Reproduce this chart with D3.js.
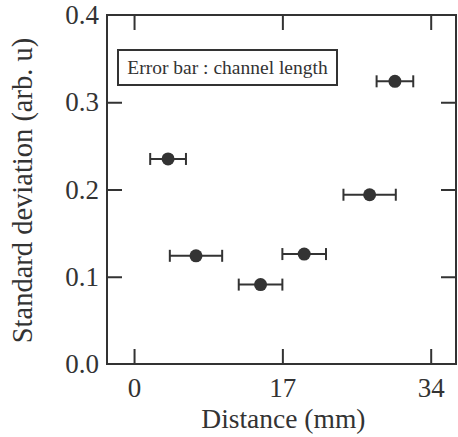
<!DOCTYPE html>
<html>
<head>
<meta charset="utf-8">
<script src="https://cdn.jsdelivr.net/npm/d3@7"></script>
<style>
  body { margin: 0; background: #fff; }
  svg text { font-family: "Liberation Serif", "Times New Roman", serif; fill: #333; }
</style>
</head>
<body>
<div id="chart"></div>
<script>
// data
const distance = [3.9, 7.1, 14.5, 19.5, 27.0, 29.9];
const stdDev   = [0.235, 0.124, 0.091, 0.126, 0.194, 0.324];
const errHalf  = [2.05, 3.0, 2.5, 2.5, 3.0, 2.1];   // channel length / 2
const xTicks = [0, 17, 34];
const yTicks = [0.0, 0.1, 0.2, 0.3, 0.4];

const width = 458;
const height = 437;
const MARGIN = { top: 15, right: 2, bottom: 73, left: 107 };
const ink = '#333';

const svg = d3.select('#chart').append('svg')
  .attr('width', width)
  .attr('height', height);

const x = d3.scaleLinear().domain([-3.1, 36.9]).range([MARGIN.left, width - MARGIN.right]);
const y = d3.scaleLinear().domain([0, 0.4]).range([height - MARGIN.bottom, MARGIN.top]);

const TICK = 15;

// axes (ticks inward on all four sides)
const gx = svg.append('g')
  .attr('transform', `translate(0,${y(0)})`)
  .call(d3.axisBottom(x).tickValues(xTicks).tickSize(-TICK).tickPadding(14).tickFormat(d3.format('d')));
const gxTop = svg.append('g')
  .attr('transform', `translate(0,${y(0.4)})`)
  .call(d3.axisTop(x).tickValues(xTicks).tickSize(-TICK).tickFormat(''));
const gy = svg.append('g')
  .attr('transform', `translate(${x.range()[0]},0)`)
  .call(d3.axisLeft(y).tickValues(yTicks).tickSize(-TICK).tickPadding(8).tickFormat(d3.format('.1f')));
const gyRight = svg.append('g')
  .attr('transform', `translate(${x.range()[1]},0)`)
  .call(d3.axisRight(y).tickValues(yTicks).tickSize(-TICK).tickFormat(''));

[gx, gxTop, gy, gyRight].forEach(g => {
  g.select('.domain').remove();
  g.selectAll('line').attr('stroke', ink).attr('stroke-width', 2);
  g.selectAll('text').style('font-size', '27px').attr('fill', ink);
});
// ticks at the ends of the frame are hidden by the frame itself
gy.selectAll('.tick').filter(d => d === 0 || d === 0.4).select('line').remove();
gyRight.selectAll('.tick').filter(d => d === 0 || d === 0.4).select('line').remove();

// frame
svg.append('rect')
  .attr('x', x.range()[0])
  .attr('y', y(0.4))
  .attr('width', x.range()[1] - x.range()[0])
  .attr('height', y(0) - y(0.4))
  .attr('fill', 'none')
  .attr('stroke', ink)
  .attr('stroke-width', 2);

// data points with horizontal error bars
const data = distance.map((d, i) => ({ x: d, y: stdDev[i], e: errHalf[i] }));
const pts = svg.append('g').selectAll('g').data(data).join('g');

pts.append('line')
  .attr('x1', d => x(d.x - d.e)).attr('x2', d => x(d.x + d.e))
  .attr('y1', d => y(d.y)).attr('y2', d => y(d.y))
  .attr('stroke', ink).attr('stroke-width', 2);
pts.append('line')
  .attr('x1', d => x(d.x - d.e)).attr('x2', d => x(d.x - d.e))
  .attr('y1', d => y(d.y) - 6).attr('y2', d => y(d.y) + 6)
  .attr('stroke', ink).attr('stroke-width', 2);
pts.append('line')
  .attr('x1', d => x(d.x + d.e)).attr('x2', d => x(d.x + d.e))
  .attr('y1', d => y(d.y) - 6).attr('y2', d => y(d.y) + 6)
  .attr('stroke', ink).attr('stroke-width', 2);
pts.append('circle')
  .attr('cx', d => x(d.x)).attr('cy', d => y(d.y))
  .attr('r', 6.5)
  .attr('fill', ink);

// legend box
svg.append('rect')
  .attr('x', 118).attr('y', 50)
  .attr('width', 219).attr('height', 35)
  .attr('fill', 'none').attr('stroke', ink).attr('stroke-width', 2);
svg.append('text')
  .attr('x', 227.5).attr('y', 74)
  .attr('text-anchor', 'middle')
  .style('font-size', '19.5px')
  .text('Error bar : channel length');

// axis titles
svg.append('text')
  .attr('x', x(17) + 1).attr('y', 428)
  .attr('text-anchor', 'middle')
  .style('font-size', '27.5px')
  .text('Distance (mm)');
svg.append('text')
  .attr('transform', `translate(32,${(y(0) + y(0.4)) / 2 + 1}) rotate(-90)`)
  .attr('text-anchor', 'middle')
  .style('font-size', '28.5px')
  .text('Standard deviation (arb. u)');
</script>
</body>
</html>
